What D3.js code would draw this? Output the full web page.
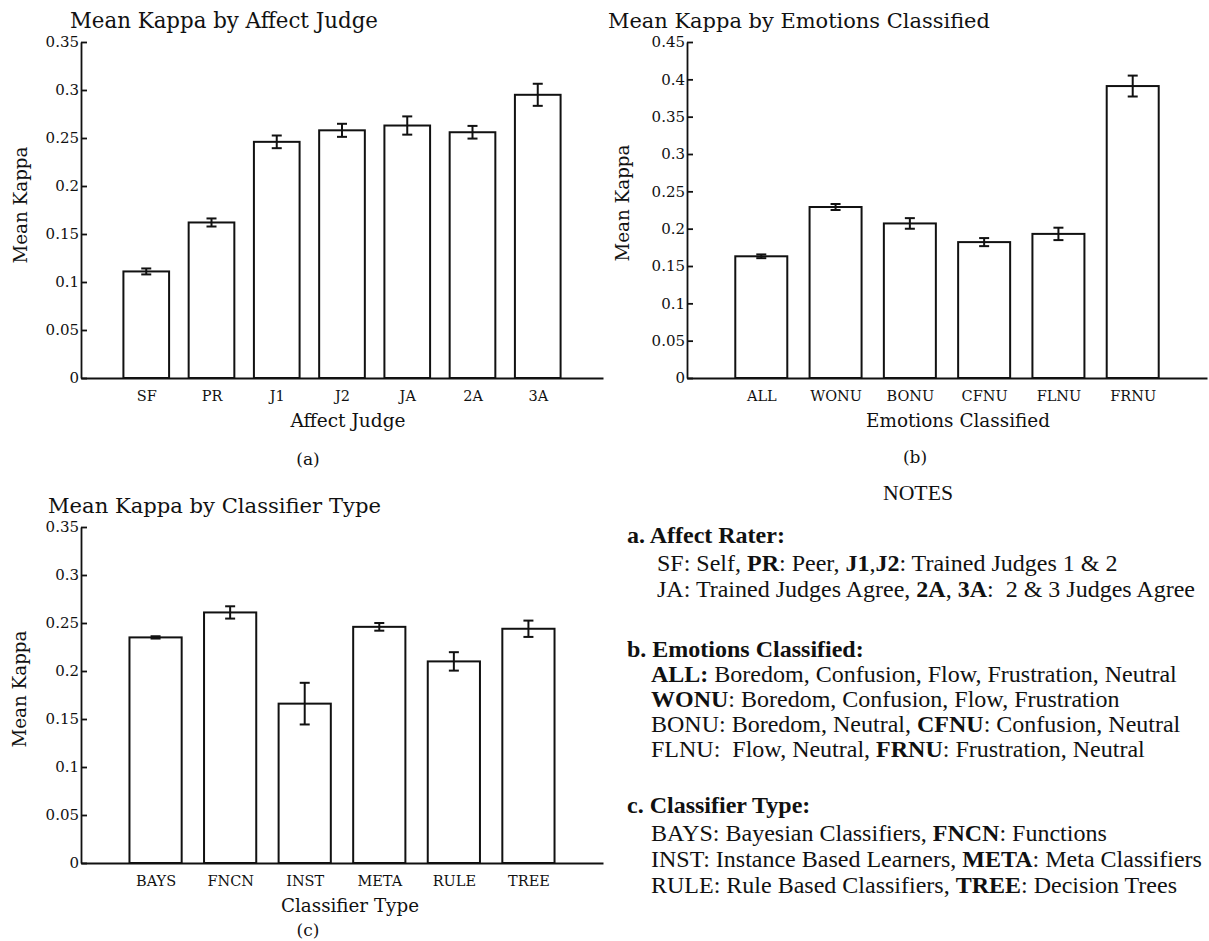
<!DOCTYPE html>
<html>
<head>
<meta charset="utf-8">
<script src="https://cdn.jsdelivr.net/npm/d3@7"></script>
<style>
  body { margin: 0; background: #fff; }
  svg { display: block; }
  .axis path, .axis line { stroke: #111; stroke-width: 1.8; }
  .axis text { fill: #111; }
</style>
</head>
<body>
<svg id="fig" width="1209" height="941"></svg>
<script>
// ---- data ----
const judgeCats  = ['SF', 'PR', 'J1', 'J2', 'JA', '2A', '3A'];
const judgeMeans = [0.111, 0.162, 0.246, 0.258, 0.263, 0.256, 0.295];
const judgeErr   = [0.0031, 0.0042, 0.0066, 0.0068, 0.0095, 0.0066, 0.0115];

const emoCats  = ['ALL', 'WONU', 'BONU', 'CFNU', 'FLNU', 'FRNU'];
const emoMeans = [0.163, 0.229, 0.207, 0.182, 0.193, 0.391];
const emoErr   = [0.0025, 0.004, 0.0071, 0.0054, 0.0083, 0.014];

const clsCats  = ['BAYS', 'FNCN', 'INST', 'META', 'RULE', 'TREE'];
const clsMeans = [0.235, 0.261, 0.166, 0.246, 0.210, 0.244];
const clsErr   = [0.0012, 0.0064, 0.0217, 0.004, 0.0096, 0.0085];

const ticks35 = [0, 0.05, 0.1, 0.15, 0.2, 0.25, 0.3, 0.35];
const ticks45 = [0, 0.05, 0.1, 0.15, 0.2, 0.25, 0.3, 0.35, 0.4, 0.45];

// notes text, [text, bold]
const notesA = [
  [['a. Affect Rater:', 1]],
  [['SF: Self, ', 0], ['PR', 1], [': Peer, ', 0], ['J1', 1], [',', 0], ['J2', 1], [': Trained Judges 1 & 2', 0]],
  [['JA: Trained Judges Agree, ', 0], ['2A', 1], [', ', 0], ['3A', 1], [':\u00a0 2 & 3 Judges Agree', 0]]
];
const notesB = [
  [['b. Emotions Classified:', 1]],
  [['ALL:', 1], [' Boredom, Confusion, Flow, Frustration, Neutral', 0]],
  [['WONU', 1], [': Boredom, Confusion, Flow, Frustration', 0]],
  [['BONU: Boredom, Neutral, ', 0], ['CFNU', 1], [': Confusion, Neutral', 0]],
  [['FLNU:\u00a0 Flow, Neutral, ', 0], ['FRNU', 1], [': Frustration, Neutral', 0]]
];
const notesC = [
  [['c. Classifier Type:', 1]],
  [['BAYS: Bayesian Classifiers, ', 0], ['FNCN', 1], [': Functions', 0]],
  [['INST: Instance Based Learners, ', 0], ['META', 1], [': Meta Classifiers', 0]],
  [['RULE: Rule Based Classifiers, ', 0], ['TREE', 1], [': Decision Trees', 0]]
];

const SERIF = '"DejaVu Serif", serif';
const TIMES = '"Liberation Serif", serif';

const svg = d3.select('#fig');
svg.append('rect').attr('width', 1209).attr('height', 941).attr('fill', '#fff');

// scale a text's font size so it spans the given width
function fit(sel, w){
  const cur = sel.node().getComputedTextLength();
  const fs = parseFloat(sel.attr('font-size'));
  sel.attr('font-size', (fs * w / cur).toFixed(2));
  return sel;
}

function label(txt, x, y, size, anchor){
  return svg.append('text').attr('x', x).attr('y', y)
    .attr('font-family', SERIF).attr('font-size', size)
    .attr('fill', '#111').attr('text-anchor', anchor || 'start').text(txt);
}

function barChart(o){
  const n = o.cats.length;
  const x = d3.scaleLinear().domain([0, n + 1]).range([o.left, o.right]);
  const y = d3.scaleLinear().domain([0, o.yMax]).range([o.bottom, o.top]);
  const bw = 0.7 * (x(1) - x(0));
  const g = svg.append('g');

  g.append('g').attr('class', 'axis')
    .attr('transform', `translate(${o.left},0)`)
    .call(d3.axisLeft(y).tickValues(o.ticks).tickSize(-6).tickSizeOuter(0).tickPadding(2)
      .tickFormat(d => String(+d.toFixed(2))))
    .attr('font-family', SERIF).attr('font-size', 15);

  g.append('g').attr('class', 'axis')
    .attr('transform', `translate(0,${o.bottom})`)
    .call(d3.axisBottom(x).tickValues(d3.range(1, n + 1)).tickSize(0).tickSizeOuter(0).tickPadding(13)
      .tickFormat(i => o.cats[i - 1]))
    .attr('font-family', SERIF).attr('font-size', 14.5);

  g.selectAll('rect.bar').data(o.means).join('rect').attr('class', 'bar')
    .attr('x', (d, i) => x(i + 1) - bw / 2).attr('width', bw)
    .attr('y', d => y(d)).attr('height', d => y(0) - y(d))
    .attr('fill', '#fff').attr('stroke', '#111').attr('stroke-width', 2);

  const eb = g.selectAll('g.err').data(o.means).join('g').attr('class', 'err')
    .attr('stroke', '#111').attr('stroke-width', 2);
  eb.append('line').attr('x1', (d, i) => x(i + 1)).attr('x2', (d, i) => x(i + 1))
    .attr('y1', (d, i) => y(d - o.errs[i])).attr('y2', (d, i) => y(d + o.errs[i]));
  [-1, 1].forEach(s => eb.append('line')
    .attr('x1', (d, i) => x(i + 1) - 5).attr('x2', (d, i) => x(i + 1) + 5)
    .attr('y1', (d, i) => y(d + s * o.errs[i])).attr('y2', (d, i) => y(d + s * o.errs[i])));

  fit(label(o.title, o.titleX, o.titleY, 20), o.titleW);
  fit(label(o.xlabel, o.xlabelX, o.xlabelY, 17, 'middle'), o.xlabelW);
  fit(label('Mean Kappa', 0, 0, 16, 'middle'), 117)
    .attr('transform', `translate(${o.ylabelX},${o.ylabelY}) rotate(-90)`);
  label(o.tag, o.tagX, o.tagY, 17, 'middle');
}

barChart({ cats: judgeCats, means: judgeMeans, errs: judgeErr, yMax: 0.35, ticks: ticks35,
  left: 81, right: 603, top: 42, bottom: 378,
  title: 'Mean Kappa by Affect Judge', titleX: 70, titleY: 28, titleW: 308,
  xlabel: 'Affect Judge', xlabelX: 348, xlabelY: 427, xlabelW: 115,
  ylabelX: 27, ylabelY: 205, tag: '(a)', tagX: 308, tagY: 465 });

barChart({ cats: emoCats, means: emoMeans, errs: emoErr, yMax: 0.45, ticks: ticks45,
  left: 687, right: 1207, top: 42, bottom: 378,
  title: 'Mean Kappa by Emotions Classified', titleX: 608, titleY: 28, titleW: 382,
  xlabel: 'Emotions Classified', xlabelX: 958, xlabelY: 427, xlabelW: 184,
  ylabelX: 629, ylabelY: 203, tag: '(b)', tagX: 915, tagY: 463 });

barChart({ cats: clsCats, means: clsMeans, errs: clsErr, yMax: 0.35, ticks: ticks35,
  left: 81, right: 603, top: 527, bottom: 863,
  title: 'Mean Kappa by Classifier Type', titleX: 48, titleY: 513, titleW: 333,
  xlabel: 'Classifier Type', xlabelX: 350, xlabelY: 912, xlabelW: 138,
  ylabelX: 26, ylabelY: 689, tag: '(c)', tagX: 308, tagY: 936 });

// ---- notes ----
fit(svg.append('text').attr('x', 918).attr('y', 500).attr('text-anchor', 'middle')
  .attr('font-family', TIMES).attr('font-size', 19).attr('fill', '#111')
  .text('NOTES'), 70);

const noteLines = [];
function notes(block, ys, indent){
  block.forEach((segs, k) => {
    const t = svg.append('text').attr('x', k === 0 ? 627 : indent).attr('y', ys[k])
      .attr('font-family', TIMES).attr('font-size', 20).attr('fill', '#111')
      .style('white-space', 'pre');
    segs.forEach(s => t.append('tspan')
      .attr('font-weight', s[1] ? 'bold' : 'normal').text(s[0]));
    noteLines.push(t);
  });
}
notes(notesA, [543, 571, 597], 657);
notes(notesB, [657, 682, 707, 732, 757], 651);
notes(notesC, [813, 841, 867, 893], 651);

// one font size for all notes, from the ALL line's width, kept inside the page
let fsN = 20 * 526 / noteLines[4].node().getComputedTextLength();
const widest = d3.max(noteLines, t => +t.attr('x') + t.node().getComputedTextLength() * fsN / 20);
if (widest > 1205) fsN *= (1205 - 651) / (widest - 651);
noteLines.forEach(t => t.attr('font-size', fsN.toFixed(2)));
</script>
</body>
</html>
